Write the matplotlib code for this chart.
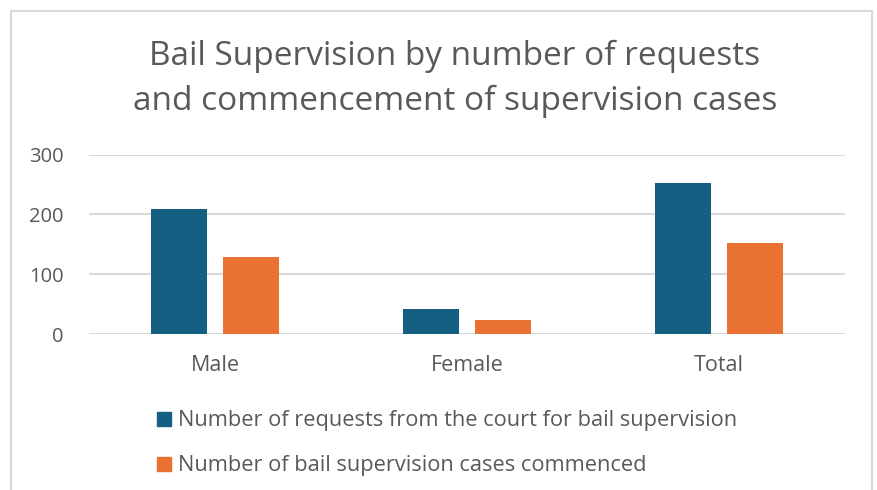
import matplotlib.pyplot as plt
import numpy as np
from matplotlib.patches import Rectangle

# data
categories = ["Male", "Female", "Total"]
requests = [209, 41, 252]
commenced = [128, 24, 153]
series_names = ["Number of requests from the court for bail supervision",
                "Number of bail supervision cases commenced"]
yticks = [0, 100, 200, 300]

blue = "#156082"
orange = "#E97132"
text_col = "#595959"
grid_col = "#d9d9d9"

plt.rcParams["font.family"] = ["Open Sans", "DejaVu Sans"]

W, H = 878, 490
fig = plt.figure(figsize=(W / 100, H / 100), dpi=100)

# chart border (bottom edge falls outside the image)
fig.patches.append(Rectangle((11 / W, -0.05), 861 / W, 1.05 - 11 / H, transform=fig.transFigure,
                             fill=False, edgecolor="#d9d9d9", linewidth=1.5))

ax = fig.add_axes([89 / W, 1 - 334 / H, 756 / W, (334 - 154.7) / H])

x = np.arange(len(categories))
bw = 0.222
ax.bar(x - 0.143, requests, bw, color=blue, zorder=3)
ax.bar(x + 0.143, commenced, bw, color=orange, zorder=3)

ax.set_xlim(-0.5, 2.5)
ax.set_ylim(0, 300)
ax.set_yticks(yticks)
ax.set_xticks(x)
ax.set_xticklabels(categories)
ax.yaxis.grid(True, color=grid_col, linewidth=1.5, zorder=0)
ax.set_axisbelow(True)
for s in ax.spines.values():
    s.set_visible(False)
ax.tick_params(axis="both", length=0, colors=text_col)
ax.tick_params(axis="y", pad=18, labelsize=14.5)
ax.tick_params(axis="x", pad=15, labelsize=15.5)

# title
fig.text(455 / W, 1 - 65 / H, "Bail Supervision by number of requests", ha="center", va="baseline",
         fontsize=24, color=text_col)
fig.text(455 / W, 1 - 110 / H, "and commencement of supervision cases", ha="center", va="baseline",
         fontsize=24, color=text_col)

# legend
for i, (name, c) in enumerate(zip(series_names, [blue, orange])):
    base = 426 + 45 * i
    fig.patches.append(Rectangle((157 / W, 1 - (base - 0.5) / H), 14 / W, 14 / H,
                                 transform=fig.transFigure, color=c))
    fig.text(178 / W, 1 - base / H, name, ha="left", va="baseline", fontsize=15.7, color=text_col)

fig.savefig("out.png", dpi=100)
